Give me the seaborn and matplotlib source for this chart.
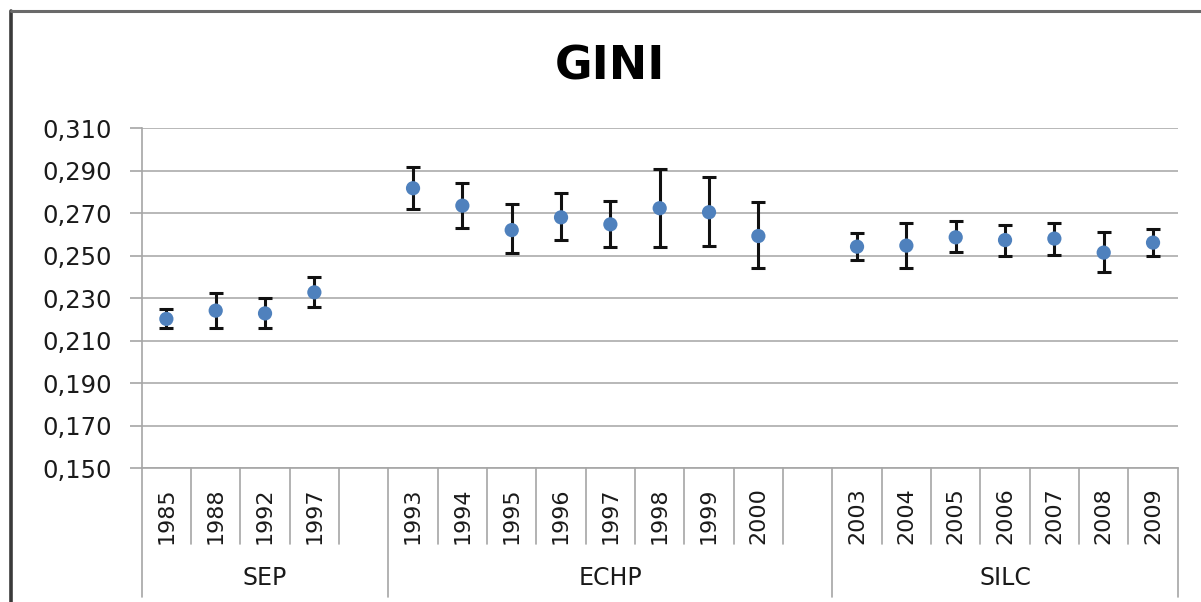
import numpy as np
import pandas as pd
import matplotlib
matplotlib.use("Agg")
import matplotlib.pyplot as plt
from matplotlib.lines import Line2D
from matplotlib.ticker import FuncFormatter
import seaborn as sns

# ---- data ----
groups = ["SEP", "ECHP", "SILC"]
sep_years = ["1985", "1988", "1992", "1997"]
sep_gini = [0.2203, 0.2242, 0.2229, 0.2328]
sep_low = [0.2159, 0.2160, 0.2159, 0.2261]
sep_high = [0.2250, 0.2323, 0.2300, 0.2402]

echp_years = ["1993", "1994", "1995", "1996", "1997", "1998", "1999", "2000"]
echp_gini = [0.2818, 0.2736, 0.2621, 0.2681, 0.2648, 0.2724, 0.2705, 0.2593]
echp_low = [0.2719, 0.2632, 0.2512, 0.2574, 0.2543, 0.2543, 0.2548, 0.2444]
echp_high = [0.2919, 0.2841, 0.2744, 0.2794, 0.2758, 0.2907, 0.2869, 0.2755]

silc_years = ["2003", "2004", "2005", "2006", "2007", "2008", "2009"]
silc_gini = [0.2543, 0.2548, 0.2587, 0.2574, 0.2581, 0.2515, 0.2562]
silc_low = [0.2480, 0.2444, 0.2519, 0.2501, 0.2505, 0.2422, 0.2501]
silc_high = [0.2606, 0.2656, 0.2664, 0.2644, 0.2653, 0.2612, 0.2625]

yticks = [0.150, 0.170, 0.190, 0.210, 0.230, 0.250, 0.270, 0.290, 0.310]

# ---- build table (each group followed by an empty slot except the last) ----
year_lists = [sep_years, echp_years, silc_years]
gini_lists = [sep_gini, echp_gini, silc_gini]
low_lists = [sep_low, echp_low, silc_low]
high_lists = [sep_high, echp_high, silc_high]

rows = []
group_spans = []
slot = 0
for gi, g in enumerate(groups):
    start = slot
    for y, v, lo, hi in zip(year_lists[gi], gini_lists[gi], low_lists[gi], high_lists[gi]):
        rows.append(dict(group=g, year=y, pos=slot, gini=v, low=lo, high=hi))
        slot += 1
    if gi < len(groups) - 1:
        slot += 1  # blank slot
    group_spans.append((start, slot))
n_slots = slot
df = pd.DataFrame(rows)

# ---- figure ----
sns.set_style("white")
plt.rcParams["font.family"] = ["DejaVu Sans"]
W, H = 1201, 602
fig = plt.figure(figsize=(W / 100, H / 100), dpi=100)
L, R, T, B = 141.7, 1177.7, 128.3, 468.3
ax = fig.add_axes([L / W, 1 - B / H, (R - L) / W, (B - T) / H])

grid_c = "#B8B8B8"
axis_c = "#A6A6A6"

ax.set_xlim(-0.5, n_slots - 0.5)
ax.set_ylim(yticks[0], yticks[-1])
ax.set_yticks(yticks)
ax.yaxis.set_major_formatter(FuncFormatter(lambda v, p: f"{v:.3f}".replace(".", ",")))
ax.grid(axis="y", color=grid_c, lw=1.4, zorder=0)
ax.set_axisbelow(True)

for s in ["top", "right"]:
    ax.spines[s].set_visible(False)
ax.spines["left"].set_color(axis_c)
ax.spines["bottom"].set_color(axis_c)
ax.spines["left"].set_linewidth(1.2)
ax.spines["bottom"].set_linewidth(1.2)

ax.tick_params(axis="y", length=8.6, width=1.2, color=axis_c, labelsize=17.5,
               labelcolor="#1a1a1a", pad=13, left=True)
ax.set_xticks(df["pos"])
ax.set_xticklabels(df["year"], rotation=90, fontsize=16, color="#1a1a1a")
ax.tick_params(axis="x", length=0, pad=13.5)

# error bars
ax.errorbar(df["pos"], df["gini"],
            yerr=[df["gini"] - df["low"], df["high"] - df["gini"]],
            fmt="none", ecolor="#111111", elinewidth=2.2, capsize=5.0,
            capthick=2.2, zorder=2)
# points
sns.scatterplot(data=df, x="pos", y="gini", ax=ax, color="#4F81BD", s=105,
                edgecolor="none", zorder=3, legend=False)
ax.set_xlabel("")
ax.set_ylabel("")

# category separators below the axis
xt = ax.get_xaxis_transform()
short_y = -(544 - B) / (B - T)
long_y = -(597 - B) / (B - T)
group_bounds = {group_spans[0][0] - 0.5} | {e - 0.5 for _, e in group_spans}
for k in range(n_slots + 1):
    xb = k - 0.5
    yend = long_y if xb in group_bounds else short_y
    ax.add_line(Line2D([xb, xb], [0, yend], transform=xt, color=axis_c,
                       lw=1.2, clip_on=False))

label_y = -(578 - B) / (B - T)
for g, (s0, s1) in zip(groups, group_spans):
    ax.text((s0 - 0.5 + s1 - 0.5) / 2, label_y, g, transform=xt, ha="center",
            va="center", fontsize=17, color="#1a1a1a")

# title
fig.text(610 / W, 1 - 67 / H, "GINI", ha="center", va="center",
         fontsize=33, fontweight="bold", color="black")

# outer chart frame (left and top)
fig.add_artist(Line2D([11 / W, 11 / W], [0, 1 - 11 / H], transform=fig.transFigure,
                      color="#3a3a3a", lw=2.6))
fig.add_artist(Line2D([11 / W, 1], [1 - 11 / H, 1 - 11 / H], transform=fig.transFigure,
                      color="#6a6a6a", lw=2.2))

fig.savefig("out.png", dpi=100)
